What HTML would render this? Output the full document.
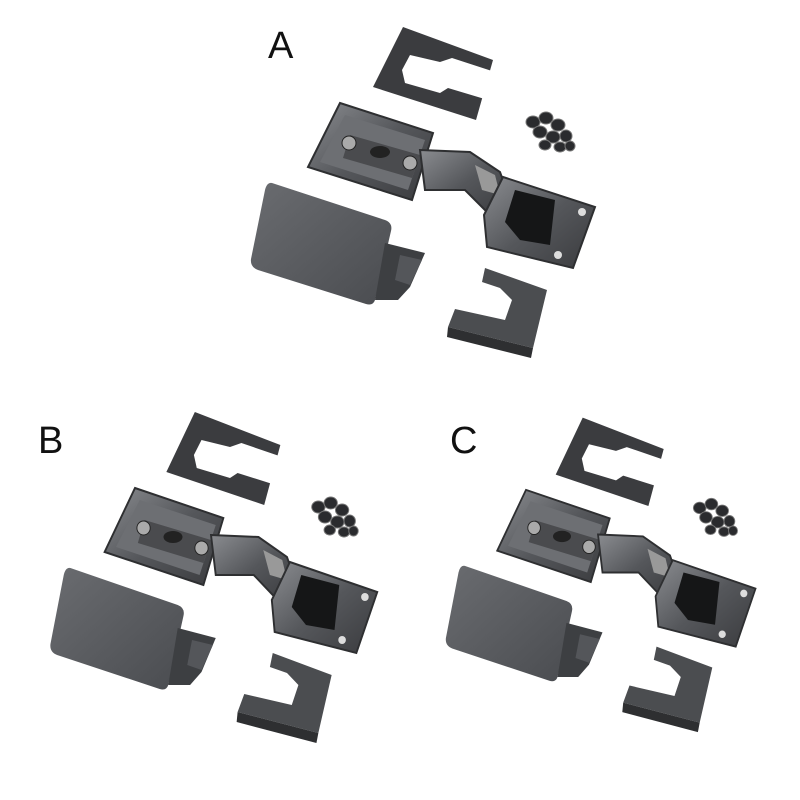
<!DOCTYPE html>
<html><head><meta charset="utf-8"><style>
html,body{margin:0;padding:0;background:#fff;width:800px;height:800px;overflow:hidden}
svg{display:block}
text{font-family:"Liberation Sans",sans-serif;fill:#111}
</style></head><body>
<svg width="800" height="800" viewBox="0 0 800 800" xmlns="http://www.w3.org/2000/svg">
<defs>
<linearGradient id="blk" x1="0" y1="0" x2="1" y2="1"><stop offset="0" stop-color="#6a6c70"/><stop offset="1" stop-color="#4a4c50"/></linearGradient>
<linearGradient id="met" x1="0" y1="0" x2="1" y2="1"><stop offset="0" stop-color="#8a8c90"/><stop offset="0.5" stop-color="#55575b"/><stop offset="1" stop-color="#3a3b3e"/></linearGradient>
<g id="kit">
  <polygon points="403,27 493,60 476,120 373,87" fill="#3b3c3f"/>
  <polygon points="410,55 440,62 452,58 495,72 488,100 448,88 440,93 405,83 402,70" fill="#fff"/>
  <g fill="#2a2b2e" stroke="#777" stroke-width="1">
    <ellipse cx="533" cy="122" rx="7" ry="6"/><ellipse cx="546" cy="118" rx="7" ry="6"/><ellipse cx="558" cy="125" rx="7" ry="6"/>
    <ellipse cx="540" cy="132" rx="7" ry="6"/><ellipse cx="553" cy="137" rx="7" ry="6"/><ellipse cx="566" cy="136" rx="6" ry="6"/>
    <ellipse cx="545" cy="145" rx="6" ry="5"/><ellipse cx="560" cy="147" rx="6" ry="5"/><ellipse cx="570" cy="146" rx="5" ry="5"/>
  </g>
  <polygon points="340,103 433,133 412,200 308,167" fill="url(#met)" stroke="#2e2f31" stroke-width="2"/>
  <polygon points="345,115 425,140 408,190 320,162" fill="#6d6f73"/>
  <polygon points="350,135 420,155 412,178 343,158" fill="#4a4b4e"/>
  <circle cx="349" cy="143" r="7" fill="#aaa" stroke="#222"/>
  <circle cx="410" cy="163" r="7" fill="#aaa" stroke="#222"/>
  <ellipse cx="380" cy="152" rx="10" ry="6" fill="#222"/>
  <polygon points="420,150 470,152 500,172 510,200 490,215 465,190 425,190" fill="url(#met)" stroke="#2e2f31" stroke-width="2"/>
  <polygon points="475,165 495,175 500,195 482,190" fill="#999"/>
  <polygon points="503,177 595,207 573,268 487,247 484,215" fill="url(#met)" stroke="#2e2f31" stroke-width="2"/>
  <polygon points="515,190 555,200 550,245 520,240 505,222" fill="#151617"/>
  <circle cx="582" cy="212" r="4" fill="#ddd"/><circle cx="558" cy="255" r="4" fill="#ddd"/>
  <path d="M272,183 L385,220 Q393,223 391,231 L375,300 Q373,306 366,304 L258,270 Q250,267 251,259 L265,190 Q267,182 272,183 Z" fill="url(#blk)"/>
  <polygon points="385,243 425,253 410,287 398,300 375,300" fill="#3d3f42"/>
  <polygon points="400,255 422,260 410,285 395,280" fill="#54565a"/>
  <polygon points="485,268 547,290 533,348 448,327 455,309 505,320 512,300 500,288 482,282" fill="#4b4d50"/>
  <polygon points="448,327 533,348 531,358 447,337" fill="#2e2f31"/>
</g>
</defs>
<text x="268" y="58" font-size="38">A</text>
<text x="38" y="453" font-size="38">B</text>
<text x="450" y="453" font-size="38">C</text>
<use href="#kit"/>
<use href="#kit" transform="translate(40,385) scale(0.95,1.0) translate(-240,0)"/>
<g transform="translate(436,392) scale(0.9,0.95) translate(-240,0)"><use href="#kit"/></g>
</svg>
</body></html>
